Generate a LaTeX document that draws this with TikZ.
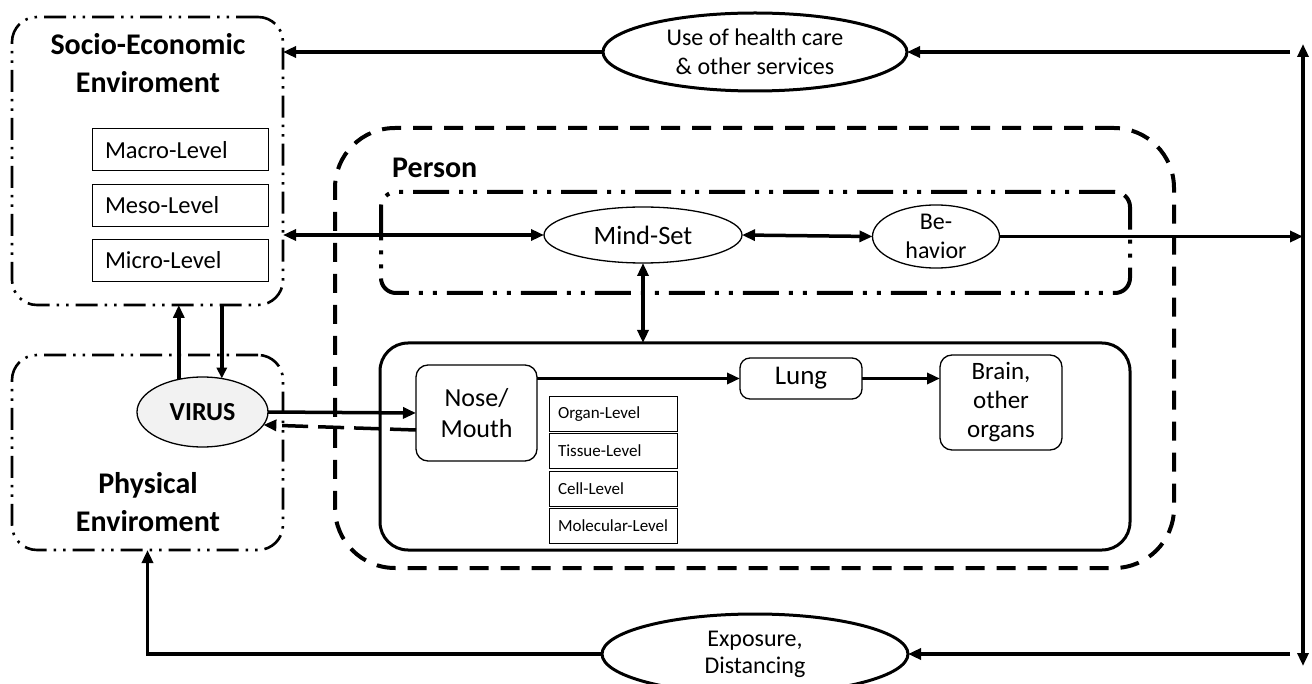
\documentclass[tikz,border=0pt]{standalone}
\usepackage{fontspec}
\setmainfont{Carlito}
\usetikzlibrary{arrows.meta,shapes.geometric,calc}
\begin{document}
\begin{tikzpicture}[x=1pt,y=-1pt,
  txt/.style={font=\fontsize{24}{29}\selectfont, align=center},
  title/.style={font=\fontsize{30}{38}\selectfont\bfseries, align=center},
  envbox/.style={draw, line width=2.6pt, rounded corners=25pt, inner sep=0pt, outer sep=0pt,
    dash pattern=on 22pt off 7pt on 2.5pt off 7pt on 2.5pt off 7pt},
  persbox/.style={draw, line width=4pt, rounded corners=60pt, inner sep=0pt, outer sep=0pt,
    dash pattern=on 19pt off 12pt},
  grpbox/.style={draw, line width=4pt, rounded corners=15pt, inner sep=0pt, outer sep=0pt,
    dash pattern=on 36pt off 10pt on 4pt off 10pt on 4pt off 10pt},
  bodybox/.style={draw, line width=3pt, rounded corners=28pt, inner sep=0pt, outer sep=0pt},
  levelbox/.style={draw, line width=1pt, text width=150pt, inner xsep=13pt, inner ysep=0pt,
    minimum height=42pt, align=left, outer sep=0pt, font=\fontsize{24.5}{29}\selectfont},
  sublevel/.style={draw, line width=1pt, text width=110pt, inner xsep=9pt, inner ysep=0pt,
    minimum height=35pt, align=left, outer sep=0pt, font=\fontsize{17}{20}\selectfont},
  organ/.style={txt, draw, line width=1.3pt, rounded corners=12pt, inner sep=0pt, outer sep=0pt},
  oval/.style={txt, ellipse, draw, line width=1.3pt, inner sep=0pt, outer sep=0pt},
  bigoval/.style={txt, ellipse, draw, line width=3pt, inner sep=0pt, outer sep=0pt},
  arr/.style={line width=3.5pt, -{Triangle[length=13pt,width=11pt]}},
  darr/.style={line width=3.5pt, {Triangle[length=13pt,width=11pt]}-{Triangle[length=13pt,width=11pt]}},
  dasharr/.style={line width=3.5pt, dash pattern=on 26pt off 10pt, -{Triangle[length=13pt,width=11pt]}},
  thinarr/.style={line width=3.5pt, -{Triangle[length=11pt,width=10pt]}}
]
\useasboundingbox (0,0) rectangle (1312,684);

% environments
\node[envbox, minimum width=271pt, minimum height=288pt] (socio) at (147.5,161) {};
\node[title] (sociot) at (148,63.5) {Socio-Economic\\Enviroment};
\node[levelbox] (macro) at (180,150) {Macro-Level};
\node[levelbox] (meso)  at (180,205.5) {Meso-Level};
\node[levelbox] (micro) at (180,260.5) {Micro-Level};

\node[envbox, minimum width=271pt, minimum height=195pt] (phys) at (147.5,452.5) {};
\node[title] (physt) at (148,502) {Physical\\Enviroment};
\node[txt, ellipse, draw, line width=1.3pt, fill=black!5, inner sep=0pt, outer sep=0pt,
  minimum width=131pt, minimum height=70pt, font=\fontsize{26}{30}\selectfont\bfseries] (virus) at (202.5,412) {VIRUS};

% person
\node[persbox, minimum width=839pt, minimum height=440pt] (person) at (754.5,348) {};
\node[font=\fontsize{30}{36}\selectfont\bfseries, anchor=west, inner sep=0pt] (persont) at (392,168) {Person};
\node[grpbox, minimum width=749pt, minimum height=101pt] (grp) at (755.5,242.5) {};
\node[oval, minimum width=198pt, minimum height=56pt, font=\fontsize{26.5}{30}\selectfont] (mindset) at (643,235) {Mind-Set};
\node[oval, minimum width=127pt, minimum height=62pt] (behav) at (936,236.5) {Be-\\havior};

\node[bodybox, minimum width=750pt, minimum height=207pt] (body) at (755,446.5) {};
\node[organ, minimum width=121pt, minimum height=96pt, font=\fontsize{26}{31}\selectfont] (nose) at (476.5,413) {Nose/\\Mouth};
\node[sublevel] (organlv) at (613,414) {Organ-Level};
\node[sublevel] (tissue)  at (613,451) {Tissue-Level};
\node[sublevel] (cell)    at (613,488.5) {Cell-Level};
\node[sublevel] (molec)   at (613,526) {\mbox{Molecular-Level}};
\node[organ, rounded corners=10pt, minimum width=122pt, minimum height=41pt, font=\fontsize{27}{31}\selectfont] (lung) at (801,378.5) {Lung};
\node[organ, minimum width=122pt, minimum height=95pt, font=\fontsize{25}{29}\selectfont] (brain) at (1001,402.5) {Brain,\\other\\organs};

% outer loop
\node[bigoval, minimum width=304pt, minimum height=78pt] (topell) at (755,52) {Use of health care\\\& other services};
\node[bigoval, minimum width=306pt, minimum height=80pt, font=\fontsize{24}{27}\selectfont] (botell) at (755,654) {Exposure,\\Distancing};
\coordinate (vt) at (1303,44);
\coordinate (vb) at (1303,666);
\coordinate (rt) at (1290,52);
\coordinate (rb) at (1290,654);

% connectors
\draw[darr, line width=4pt] (vt) -- (vb);
\draw[arr] (rt) -- (topell.east);
\draw[arr] (topell.west) -- (topell.west -| socio.east);
\draw[arr] (rb) -- (botell.east);
\draw[arr] (botell.west) -| (phys.south);

\draw[darr] (socio.east |- mindset.west) -- (mindset.west);
\draw[darr] (mindset.east) -- (behav.west);
\draw[arr] (behav.east) -- (behav.east -| vt);
\draw[darr] (mindset.south) -- (mindset.south |- body.north);

\draw[arr] (virus.126) -- (virus.126 |- socio.south);
\draw[thinarr] (socio.south -| virus.60) -- (virus.60);
\draw[arr] (virus.east) -- (nose.west);
\draw[dasharr] ($(nose.west)+(0,17)$) -- (virus.-12);

\draw[arr] (nose.east |- lung.west) -- (lung.west);
\draw[arr] (lung.east) -- (lung.east -| brain.west);
\end{tikzpicture}
\end{document}
